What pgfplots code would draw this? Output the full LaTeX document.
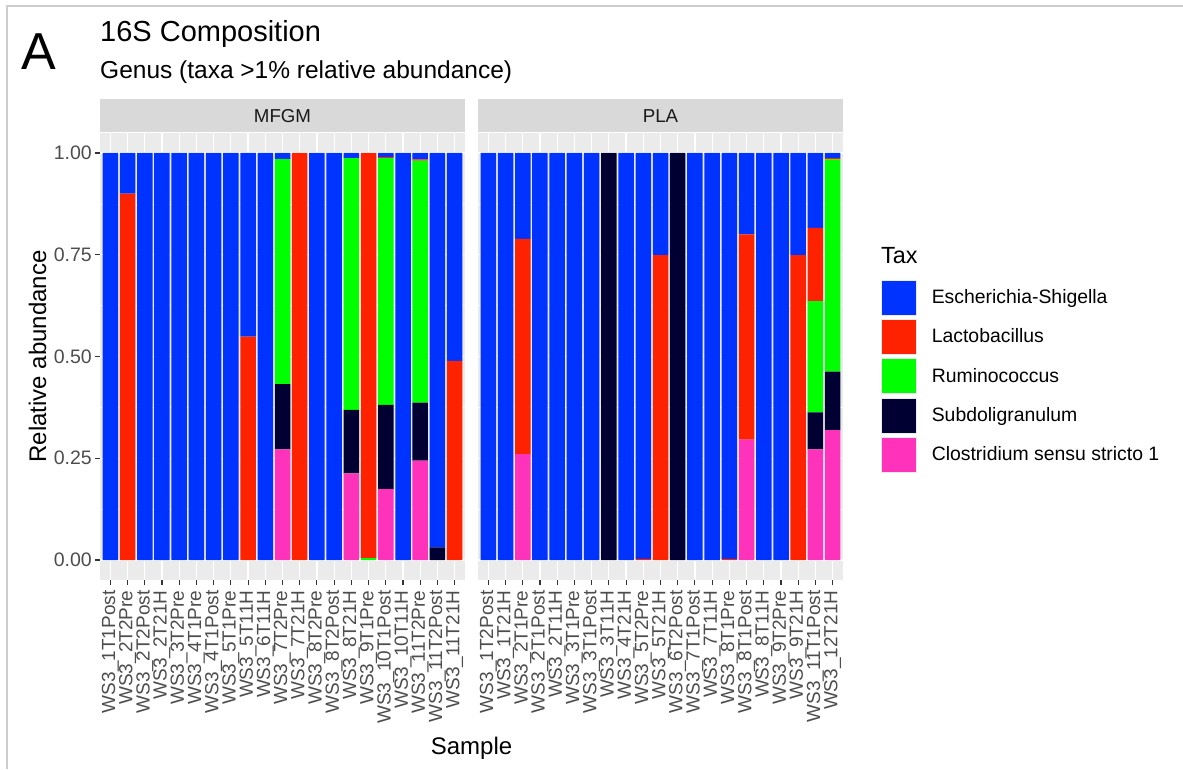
\documentclass[border=0pt]{standalone}
\usepackage{pgfplots}
\pgfplotsset{compat=1.18}
\usepackage{pgfplotstable}
\usepackage{fontspec}
\setmainfont{Liberation Sans}
\definecolor{cblue}{RGB}{0,51,255}
\definecolor{cred}{RGB}{255,34,0}
\definecolor{cgreen}{RGB}{0,255,0}
\definecolor{cdark}{RGB}{0,0,51}
\definecolor{cpink}{RGB}{255,51,187}
\definecolor{panelbg}{RGB}{235,235,235}
\definecolor{stripbg}{RGB}{217,217,217}
\definecolor{tickc}{RGB}{51,51,51}
\definecolor{tlabc}{RGB}{77,77,77}
\definecolor{stript}{RGB}{26,26,26}
\definecolor{framec}{RGB}{205,205,205}
\definecolor{keyb}{RGB}{235,235,235}
\newcommand\fs[1]{\fontsize{#1}{#1}\selectfont}

\pgfplotstableread{
x pink dark green red blue
1 0 0 0 0 1
2 0 0 0 0.90 0.10
3 0 0 0 0 1
4 0 0 0 0 1
5 0 0 0 0 1
6 0 0 0 0 1
7 0 0 0 0 1
8 0 0 0 0 1
9 0 0 0 0.549 0.451
10 0 0 0 0 1
11 0.272 0.160 0.553 0 0.015
12 0 0 0 1 0
13 0 0 0 0 1
14 0 0 0 0 1
15 0.213 0.156 0.618 0 0.013
16 0 0 0.005 0.995 0
17 0.174 0.207 0.606 0.003 0.010
18 0 0 0 0 1
19 0.244 0.143 0.594 0.003 0.016
20 0 0.031 0 0 0.969
21 0 0 0 0.489 0.511
}\mfgm

\pgfplotstableread{
x pink dark green red blue
1 0 0 0 0 1
2 0 0 0 0 1
3 0.260 0 0 0.529 0.211
4 0 0 0 0 1
5 0 0 0 0 1
6 0 0 0 0 1
7 0 0 0 0 1
8 0 1 0 0 0
9 0 0 0 0 1
10 0 0 0 0.003 0.997
11 0 0 0 0.749 0.251
12 0 1 0 0 0
13 0 0 0 0 1
14 0 0 0 0 1
15 0 0 0 0.003 0.997
16 0.296 0 0 0.504 0.200
17 0 0 0 0 1
18 0 0 0 0 1
19 0 0 0 0.749 0.251
20 0.272 0.091 0.273 0.180 0.184
21 0.319 0.144 0.521 0.003 0.013
}\pla

\pgfplotsset{
  facet/.style={
    scale only axis, width=365pt, height=447.8pt,
    anchor=south west,
    xmin=0.4, xmax=21.6, ymin=-0.05, ymax=1.05,
    axis background/.style={fill=panelbg},
    axis line style={draw=none},
    ybar stacked, bar width=0.9,
    xtick={1,...,21},
    ytick={0,0.25,0.5,0.75,1},
    minor ytick={0.125,0.375,0.625,0.875},
    grid=both,
    major grid style={white, line width=1.2pt},
    minor grid style={white, line width=0.6pt},
    tick pos=left,
    tick align=outside,
    major tick length=4.5pt,
    minor tick length=0pt,
    tick style={tickc, line width=1.1pt},
    x tick label style={rotate=90, anchor=east, inner sep=0pt, font=\fs{19}, text=tlabc},
    xticklabel shift=5.5pt,
    y tick label style={anchor=east, inner sep=0pt, font=\fs{19.5}, text=tlabc},
    yticklabel shift=3.5pt,
    every axis title/.style={at={(0.5,1)}, anchor=south, fill=stripbg, minimum width=365pt, minimum height=33.6pt, inner sep=0pt, text=stript, font=\fs{18.7}},
  },
}

\begin{document}
\begin{tikzpicture}[x=1pt,y=1pt]
\useasboundingbox (0,0) rectangle (1183,769);
\draw[framec, line width=1.5pt] (7,0) -- (7,763) -- (1183,763);

\begin{axis}[facet, at={(100pt,188.6pt)},
  title={MFGM},
  yticklabels={0.00,0.25,0.50,0.75,1.00},
  xticklabels={WS3\_1T1Post, WS3\_2T2Pre, WS3\_2T2Post, WS3\_2T21H, WS3\_3T2Pre, WS3\_4T1Pre, WS3\_4T1Post, WS3\_5T1Pre, WS3\_5T11H, WS3\_6T11H, WS3\_7T2Pre, WS3\_7T21H, WS3\_8T2Pre, WS3\_8T2Post, WS3\_8T21H, WS3\_9T1Pre, WS3\_10T1Post, WS3\_10T11H, WS3\_11T2Pre, WS3\_11T2Post, WS3\_11T21H},
]
\addplot[fill=cpink, draw=none] table[x=x,y=pink]{\mfgm};
\addplot[fill=cdark, draw=none] table[x=x,y=dark]{\mfgm};
\addplot[fill=cgreen, draw=none] table[x=x,y=green]{\mfgm};
\addplot[fill=cred, draw=none] table[x=x,y=red]{\mfgm};
\addplot[fill=cblue, draw=none] table[x=x,y=blue]{\mfgm};
\end{axis}

\begin{axis}[facet, at={(478pt,188.6pt)},
  title={PLA},
  yticklabels={},
  y tick style={draw=none},
  xticklabels={WS3\_1T2Post, WS3\_1T21H, WS3\_2T1Pre, WS3\_2T1Post, WS3\_2T11H, WS3\_3T1Pre, WS3\_3T1Post, WS3\_3T11H, WS3\_4T21H, WS3\_5T2Pre, WS3\_5T21H, WS3\_6T2Post, WS3\_7T1Post, WS3\_7T11H, WS3\_8T1Pre, WS3\_8T1Post, WS3\_8T11H, WS3\_9T2Pre, WS3\_9T21H, WS3\_11T1Post, WS3\_12T21H},
  legend style={at={(1.1041,0.6724)}, anchor=north west, draw=none, fill=none, inner sep=0pt, row sep=3.75pt, column sep=15pt, font=\fs{19.4}, nodes={inner sep=0pt}},
  legend cell align=left,
  reverse legend,
]
\addplot[fill=cpink, draw=none, legend image code/.code={\fill[cpink, draw=keyb, line width=0.6pt] (0pt,-17.5pt) rectangle (35pt,17.5pt);}] table[x=x,y=pink]{\pla};
\addlegendentry{Clostridium sensu stricto 1}
\addplot[fill=cdark, draw=none, legend image code/.code={\fill[cdark, draw=keyb, line width=0.6pt] (0pt,-17.5pt) rectangle (35pt,17.5pt);}] table[x=x,y=dark]{\pla};
\addlegendentry{Subdoligranulum}
\addplot[fill=cgreen, draw=none, legend image code/.code={\fill[cgreen, draw=keyb, line width=0.6pt] (0pt,-17.5pt) rectangle (35pt,17.5pt);}] table[x=x,y=green]{\pla};
\addlegendentry{Ruminococcus}
\addplot[fill=cred, draw=none, legend image code/.code={\fill[cred, draw=keyb, line width=0.6pt] (0pt,-17.5pt) rectangle (35pt,17.5pt);}] table[x=x,y=red]{\pla};
\addlegendentry{Lactobacillus}
\addplot[fill=cblue, draw=none, legend image code/.code={\fill[cblue, draw=keyb, line width=0.6pt] (0pt,-17.5pt) rectangle (35pt,17.5pt);}] table[x=x,y=blue]{\pla};
\addlegendentry{Escherichia-Shigella}
\end{axis}

\node[anchor=base west, inner sep=0pt, font=\fs{52}] at (21,699) {A};
\node[anchor=base west, inner sep=0pt, font=\fs{29}] at (100,727) {16S Composition};
\node[anchor=base west, inner sep=0pt, font=\fs{24.5}] at (100,690) {Genus (taxa >1\% relative abundance)};
\node[anchor=base west, inner sep=0pt, font=\fs{23.4}] at (881,505.7) {Tax};
\node[anchor=base, inner sep=0pt, font=\fs{24}] at (471.5,15) {Sample};
\node[rotate=90, anchor=base, inner sep=0pt, font=\fs{24}] at (46,412.5) {Relative abundance};
\end{tikzpicture}
\end{document}
